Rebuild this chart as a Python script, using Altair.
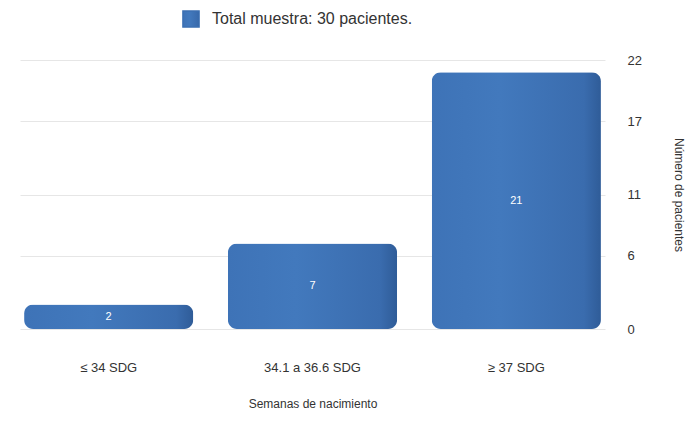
import altair as alt
import pandas as pd

# Births by gestational age group (total sample of 30 patients)
categories = ["≤ 34 SDG", "34.1 a 36.6 SDG", "≥ 37 SDG"]
patients = [2, 7, 21]
series_name = "Total muestra: 30 pacientes."
y_ticks = [0, 6, 11, 17, 22]

df = pd.DataFrame({"grupo": categories, "pacientes": patients, "serie": series_name})

FONT = "Liberation Sans"
BLUE = "#3c70b3"

base = alt.Chart(df).encode(
    x=alt.X(
        "grupo:N",
        sort=categories,
        scale=alt.Scale(paddingInner=0.17, paddingOuter=0.02),
        axis=alt.Axis(
            title="Semanas de nacimiento",
            labelAngle=0,
            labelFontSize=13,
            labelColor="#333333",
            labelFont=FONT,
            labelPadding=32,
            titleFont=FONT,
            titleFontSize=12,
            titleFontWeight="normal",
            titleColor="#333333",
            titlePadding=24,
            domain=False,
            ticks=False,
        ),
    ),
)

bars = base.mark_bar(
    cornerRadius=9,
    color=alt.Gradient(
        gradient="linear",
        x1=0, x2=1, y1=0, y2=0,
        stops=[
            alt.GradientStop(color="#3e73b7", offset=0),
            alt.GradientStop(color="#4279bd", offset=0.4),
            alt.GradientStop(color="#3a6cae", offset=0.9),
            alt.GradientStop(color="#2f5c98", offset=1),
        ],
    ),
).encode(
    y=alt.Y(
        "pacientes:Q",
        scale=alt.Scale(domain=[0, 22], nice=False),
        axis=alt.Axis(
            orient="right",
            values=y_ticks,
            title="Número de pacientes",
            titleAngle=90,
            titleBaseline="bottom",
            titleFont=FONT,
            titleFontSize=12,
            titleFontWeight="normal",
            titleColor="#333333",
            titlePadding=30,
            labelFont=FONT,
            labelFontSize=13,
            labelColor="#333333",
            labelPadding=22,
            domain=False,
            ticks=False,
            grid=True,
            gridColor="#e6e6e6",
        ),
    ),
    stroke=alt.Stroke(
        "serie:N",
        scale=alt.Scale(range=[BLUE]),
        legend=alt.Legend(
            title=None,
            orient="none",
            legendX=162,
            legendY=-50,
            symbolType="square",
            symbolSize=260,
            symbolFillColor=BLUE,
            symbolStrokeColor=BLUE,
            labelFont=FONT,
            labelFontSize=16,
            labelColor="#333333",
            labelOffset=12,
            labelLimit=0,
        ),
    ),
    strokeWidth=alt.value(0),
)

labels = base.mark_text(
    color="white", font=FONT, fontSize=11, baseline="middle"
).transform_calculate(mid="datum.pacientes / 2").encode(
    y=alt.Y("mid:Q"),
    text=alt.Text("pacientes:Q"),
)

chart = (
    alt.layer(bars, labels)
    .properties(
        width=585,
        height=269,
        autosize=alt.AutoSizeParams(type="none"),
        padding={"left": 20, "top": 60, "right": 80, "bottom": 100},
        background="white",
    )
    .configure_view(stroke=None)
)

chart.save("out.html", embed_options={"renderer": "svg", "actions": False})
